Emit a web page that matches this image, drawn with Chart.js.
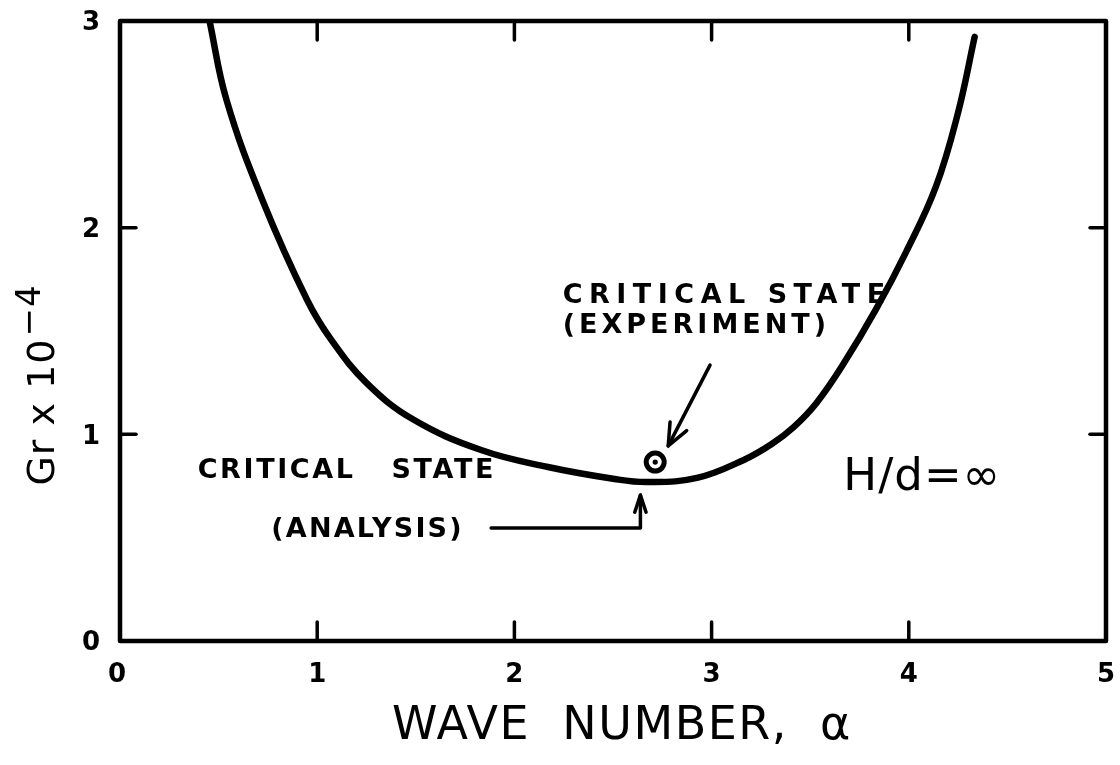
<!DOCTYPE html>
<html>
<head>
<meta charset="utf-8">
<script src="https://cdn.jsdelivr.net/npm/chart.js@4"></script>
<style>
  html, body { margin: 0; padding: 0; background: #fff; }
  canvas { display: block; }
</style>
</head>
<body>
<canvas id="myChart" width="1120" height="765"></canvas>
<script>
// 중립 안정 곡선 (H/d = ∞)
const waveNumber = [0.454, 0.54, 0.722, 0.949, 1.075, 1.251, 1.483, 1.831, 2.17, 2.508, 2.674, 2.926, 3.163, 3.305, 3.416, 3.532, 3.668, 3.834, 3.986, 4.137, 4.248, 4.334];
const grashof = [3.0, 2.618, 2.134, 1.65, 1.452, 1.248, 1.074, 0.924, 0.842, 0.784, 0.769, 0.789, 0.876, 0.953, 1.035, 1.152, 1.34, 1.606, 1.882, 2.197, 2.55, 2.923];

// 실험 임계점
const expWaveNumber = [2.714];
const expGrashof = [0.866];

const xTicks = [0, 1, 2, 3, 4, 5];
const yTicks = [0, 1, 2, 3];

const FONT = '"DejaVu Sans", "Liberation Sans", sans-serif';

function line(ctx, x1, y1, x2, y2) {
  ctx.beginPath();
  ctx.moveTo(x1, y1);
  ctx.lineTo(x2, y2);
  ctx.stroke();
}

function arrowHead(ctx, x1, y1, x2, y2, size, spread) {
  const ang = Math.atan2(y2 - y1, x2 - x1);
  ctx.beginPath();
  ctx.moveTo(x2 - size * Math.cos(ang - spread), y2 - size * Math.sin(ang - spread));
  ctx.lineTo(x2, y2);
  ctx.lineTo(x2 - size * Math.cos(ang + spread), y2 - size * Math.sin(ang + spread));
  ctx.stroke();
}

// 글자 중심(대문자 높이 기준)에 맞춰 쓰기
function text(ctx, str, x, yMid, weight, size, spacing, align) {
  ctx.font = weight + ' ' + size + 'px ' + FONT;
  ctx.letterSpacing = spacing + 'px';
  ctx.textAlign = align || 'left';
  ctx.textBaseline = 'alphabetic';
  ctx.fillText(str, x, yMid + size * 0.365);
}

// 테두리, 안쪽 눈금
const framePlugin = {
  id: 'framePlugin',
  beforeDatasetsDraw(chart) {
    const ctx = chart.ctx;
    const area = chart.chartArea;
    const xs = chart.scales.x;
    const ys = chart.scales.y;
    ctx.save();
    ctx.strokeStyle = '#000';
    ctx.lineJoin = 'round';
    ctx.lineWidth = 4.5;
    ctx.strokeRect(area.left, area.top, area.right - area.left, area.bottom - area.top);

    ctx.lineWidth = 3.5;
    ctx.lineCap = 'round';
    xTicks.slice(1, -1).forEach(function (v) {
      const px = xs.getPixelForValue(v);
      line(ctx, px, area.bottom, px, area.bottom - 19);
      line(ctx, px, area.top, px, area.top + 19);
    });
    yTicks.slice(1, -1).forEach(function (v) {
      const py = ys.getPixelForValue(v);
      line(ctx, area.left, py, area.left + 16, py);
      line(ctx, area.right, py, area.right - 16, py);
    });
    ctx.restore();
  },

  afterDatasetsDraw(chart) {
    const ctx = chart.ctx;
    const area = chart.chartArea;
    const xs = chart.scales.x;
    const ys = chart.scales.y;
    const X = function (v) { return xs.getPixelForValue(v); };
    const Y = function (v) { return ys.getPixelForValue(v); };

    ctx.save();
    ctx.fillStyle = '#000';
    ctx.strokeStyle = '#000';

    // 눈금 숫자
    xTicks.forEach(function (v) {
      text(ctx, String(v), X(v) - (v === 0 ? 3 : 0), area.bottom + 32, 'bold', 26, 0, 'center');
    });
    yTicks.forEach(function (v) {
      text(ctx, String(v), area.left - 29, Y(v), 'bold', 26, 0, 'center');
    });

    // 축 제목
    text(ctx, 'WAVE  NUMBER,  α', 622, 722, 'normal', 46, 1.5, 'center');

    ctx.save();
    ctx.translate(40, 386);
    ctx.rotate(-Math.PI / 2);
    ctx.font = 'normal 38px ' + FONT;
    ctx.letterSpacing = '1px';
    const main = 'Gr x 10';
    const w1 = ctx.measureText(main).width;
    ctx.font = 'normal 34px ' + FONT;
    const w2 = ctx.measureText('−4').width;
    const start = -(w1 + w2) / 2;
    text(ctx, main, start, 0, 'normal', 38, 1, 'left');
    text(ctx, '−4', start + w1 + 2, -12, 'normal', 34, 1, 'left');
    ctx.restore();

    // 주석
    text(ctx, 'CRITICAL STATE', X(2.245), Y(1.684), 'bold', 27, 6.5, 'left');
    text(ctx, '(EXPERIMENT)', X(2.245), Y(1.539), 'bold', 27, 4, 'left');
    text(ctx, 'CRITICAL   STATE', X(0.394), Y(0.837), 'bold', 27, 2.6, 'left');
    text(ctx, '(ANALYSIS)', X(0.767), Y(0.552), 'bold', 27, 2.2, 'left');
    text(ctx, 'H/d=∞', X(3.668), Y(0.808), 'normal', 45, 1, 'left');

    ctx.lineWidth = 3.5;
    ctx.lineCap = 'round';
    ctx.lineJoin = 'round';
    // 실험점 화살표
    const ax1 = X(2.992), ay1 = Y(1.335), ax2 = X(2.78), ay2 = Y(0.944);
    line(ctx, ax1, ay1, ax2, ay2);
    arrowHead(ctx, ax1, ay1, ax2, ay2, 24, 0.4);
    // 해석 화살표
    const bx1 = X(1.882), by1 = Y(0.547), bx2 = X(2.639), by2 = Y(0.706);
    ctx.beginPath();
    ctx.moveTo(bx1, by1);
    ctx.lineTo(bx2, by1);
    ctx.lineTo(bx2, by2);
    ctx.stroke();
    arrowHead(ctx, bx2, by1, bx2, by2, 18, 0.32);

    ctx.restore();
  }
};

const chartArea = document.getElementById('myChart').getContext('2d');

const myChart = new Chart(chartArea, {
  type: 'scatter',
  data: {
    datasets: [
      {
        label: 'neutral stability',
        data: waveNumber.map(function (a, i) { return { x: a, y: grashof[i] }; }),
        showLine: true,
        borderColor: '#000',
        borderWidth: 6.5,
        borderCapStyle: 'round',
        pointRadius: 0,
        tension: 0.4,
        fill: false,
        order: 3
      },
      {
        label: 'experiment',
        data: expWaveNumber.map(function (a, i) { return { x: a, y: expGrashof[i] }; }),
        pointRadius: 9,
        pointBorderWidth: 5,
        pointBackgroundColor: '#fff',
        pointBorderColor: '#000',
        order: 2
      },
      {
        label: 'experiment center',
        data: expWaveNumber.map(function (a, i) { return { x: a, y: expGrashof[i] }; }),
        pointRadius: 2.6,
        pointBorderWidth: 0,
        pointBackgroundColor: '#000',
        order: 1
      }
    ]
  },
  options: {
    responsive: false,
    animation: false,
    devicePixelRatio: 1,
    layout: {
      padding: { left: 120, right: 9, top: 21, bottom: 124 }
    },
    plugins: {
      legend: { display: false },
      tooltip: { enabled: false }
    },
    scales: {
      x: { type: 'linear', min: 0, max: 5, display: false },
      y: { type: 'linear', min: 0, max: 3, display: false }
    }
  },
  plugins: [framePlugin]
});
</script>
</body>
</html>
